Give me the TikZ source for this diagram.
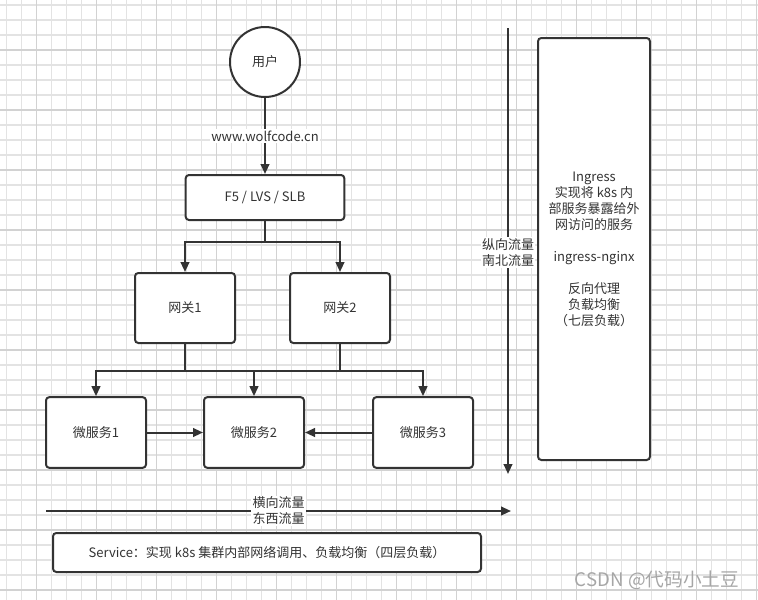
\documentclass[tikz,border=0pt]{standalone}
\usepackage{fontspec}
\setmainfont{Noto Sans CJK SC}
\usepackage{xcolor}
\usepackage{tikz}
\usetikzlibrary{arrows.meta,positioning,calc}
\definecolor{ink}{HTML}{333333}
\definecolor{gridminor}{HTML}{E3E3E3}
\definecolor{gridmajor}{HTML}{D2D2D2}

\begin{document}
\begin{tikzpicture}[
	x=0.75pt, y=-0.75pt,
	every node/.style={font=\fontsize{9.75}{12}\selectfont, text=ink},
	box/.style={rounded corners=2.5pt, draw=ink, line width=1.5pt, fill=white, align=center, minimum width=75pt, minimum height=52.5pt},
	arr/.style={-{Triangle[length=7.5pt, width=6.5pt]}, draw=ink, line width=1.5pt},
	lbl/.style={fill=white, inner sep=1pt, align=center}
	]
	\useasboundingbox (0,0) rectangle (758,600);
	% background grid
	\foreach \x in {6.7,21.7,...,758} \draw[gridminor, line width=0.8pt] (\x,0) -- (\x,600);
	\foreach \y in {5,20,...,600} \draw[gridminor, line width=0.8pt] (0,\y) -- (758,\y);
	\foreach \x in {36.7,96.7,...,758} \draw[gridmajor, line width=0.8pt] (\x,0) -- (\x,600);
	\foreach \y in {50,110,...,600} \draw[gridmajor, line width=0.8pt] (0,\y) -- (758,\y);

	\node[circle, draw=ink, line width=1.5pt, fill=white, minimum size=52.5pt] (user) at (265,62) {用户};
	\node[box, minimum width=119pt, minimum height=33.75pt] (f5) at (265,197.5) {F5 / LVS / SLB};
	\node[box] (gw1) at (185,308) {网关1};
	\node[box] (gw2) at (340,308) {网关2};
	\node[box, minimum height=53pt] (ms1) at (96,432.5) {微服务1};
	\node[box, minimum height=53pt] (ms2) at (254,432.5) {微服务2};
	\node[box, minimum height=53pt] (ms3) at (423,432.5) {微服务3};
	\node[box, minimum width=84pt, minimum height=316.5pt] (ingress) at (594,249) {Ingress\\实现将 k8s 内\\部服务暴露给外\\网访问的服务\\[12pt]ingress-nginx\\[12pt]反向代理\\负载均衡\\（七层负载）};
	\node[box, minimum width=321pt, minimum height=29.25pt] (svc) at (267,552.5) {Service：实现 k8s 集群内部网络调用、负载均衡（四层负载）};

	\coordinate (split) at (265,242);
	\coordinate (bus) at (254,371);
	\coordinate (nstop) at (508,28);
	\coordinate (nsend) at (508,474);
	\coordinate (ewstart) at (46,511);
	\coordinate (ewend) at (511,511);

	\draw[arr] (user) -- node[lbl] {www.wolfcode.cn} (f5);
	\draw[arr] (f5.south) -- (split) -| (gw1.north);
	\draw[arr] (split) -| (gw2.north);
	\draw[arr] (gw1.south) |- (bus) -| (ms1.north);
	\draw[arr] (gw2.south) |- (bus) -| (ms3.north);
	\draw[arr] (bus) -- (ms2.north);
	\draw[arr] (ms1) -- (ms2);
	\draw[arr] (ms3) -- (ms2);

	\draw[arr] (nstop) -- node[lbl, pos=0.503] {纵向流量\\南北流量} (nsend);
	\draw[arr] (ewstart) -- node[lbl, pos=0.500] {横向流量\\东西流量} (ewend);

	\node[font=\fontsize{14}{16}\selectfont, text=gray!70] (mark) at (657,580) {CSDN @代码小土豆};
\end{tikzpicture}
\end{document}
